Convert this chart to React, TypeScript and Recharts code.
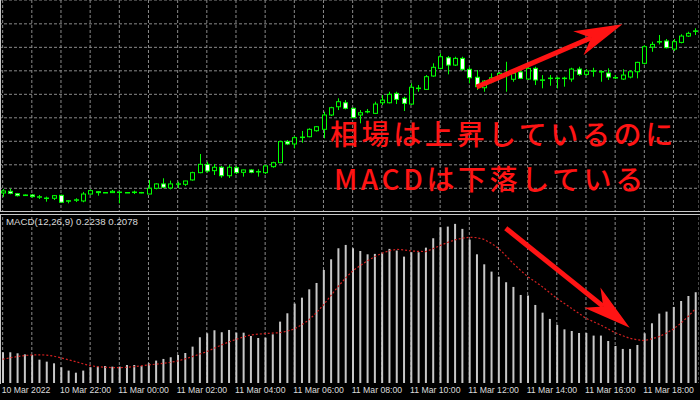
import { BarChart, Bar, ComposedChart, Line, XAxis, YAxis, CartesianGrid, ReferenceLine } from 'recharts';

// USDJPY M15, 10 Mar 20:00 -> 11 Mar 19:45
const tickLabels = [
  '10 Mar 2022', '10 Mar 22:00', '11 Mar 00:00', '11 Mar 02:00', '11 Mar 04:00', '11 Mar 06:00',
  '11 Mar 08:00', '11 Mar 10:00', '11 Mar 12:00', '11 Mar 14:00', '11 Mar 16:00', '11 Mar 18:00',
];

const opens = [
  115.860, 115.874, 115.854, 115.838, 115.843, 115.824, 115.814, 115.815, 115.840, 115.790, 115.799, 115.792,
  115.851, 115.871, 115.861, 115.863, 115.864, 115.861, 115.864, 115.864, 115.851, 115.900, 115.937, 115.903,
  115.934, 115.934, 115.971, 116.033, 116.104, 116.050, 116.079, 116.007, 116.075, 116.036, 116.056, 116.040,
  116.033, 116.084, 116.118, 116.297, 116.277, 116.332, 116.339, 116.390, 116.402, 116.524, 116.594, 116.628,
  116.581, 116.524, 116.550, 116.538, 116.628, 116.628, 116.708, 116.666, 116.617, 116.749, 116.742, 116.856,
  116.921, 117.011, 116.949, 117.006, 116.913, 116.845, 116.756, 116.807, 116.836, 116.863, 116.828, 116.890,
  116.830, 116.921, 116.820, 116.834, 116.834, 116.834, 116.830, 116.915, 116.870, 116.897, 116.891, 116.881,
  116.840, 116.830, 116.847, 116.892, 116.964, 117.102, 117.146, 117.154, 117.085, 117.142, 117.196, 117.237,
];
const highs = [
  115.894, 115.897, 115.860, 115.847, 115.851, 115.843, 115.829, 115.843, 115.846, 115.800, 115.815, 115.869,
  115.891, 115.873, 115.866, 115.886, 115.870, 115.866, 115.880, 115.869, 115.971, 115.943, 115.985, 115.965,
  115.956, 115.964, 116.041, 116.192, 116.126, 116.107, 116.090, 116.098, 116.090, 116.058, 116.062, 116.062,
  116.098, 116.126, 116.305, 116.311, 116.345, 116.388, 116.411, 116.430, 116.552, 116.594, 116.666, 116.651,
  116.586, 116.566, 116.575, 116.637, 116.694, 116.722, 116.722, 116.680, 116.794, 116.779, 116.864, 116.964,
  117.049, 117.026, 117.020, 117.020, 116.935, 116.907, 116.822, 116.879, 116.890, 116.977, 116.892, 116.907,
  116.935, 116.935, 116.864, 116.864, 116.850, 116.850, 116.926, 116.935, 116.915, 116.926, 116.904, 116.921,
  116.864, 116.913, 116.907, 116.977, 117.119, 117.148, 117.205, 117.171, 117.171, 117.211, 117.233, 117.262,
];
const lows = [
  115.826, 115.849, 115.830, 115.834, 115.820, 115.809, 115.786, 115.800, 115.775, 115.772, 115.783, 115.781,
  115.846, 115.837, 115.860, 115.860, 115.772, 115.860, 115.851, 115.857, 115.849, 115.891, 115.900, 115.891,
  115.900, 115.920, 115.965, 116.028, 116.033, 116.013, 115.990, 115.988, 116.022, 115.999, 116.028, 115.999,
  116.022, 116.075, 116.113, 116.268, 116.240, 116.288, 116.334, 116.382, 116.326, 116.515, 116.566, 116.572,
  116.496, 116.453, 116.538, 116.532, 116.609, 116.623, 116.617, 116.558, 116.609, 116.722, 116.737, 116.850,
  116.913, 116.870, 116.941, 116.901, 116.794, 116.737, 116.722, 116.794, 116.822, 116.722, 116.807, 116.830,
  116.822, 116.779, 116.751, 116.773, 116.751, 116.765, 116.807, 116.858, 116.858, 116.850, 116.807, 116.822,
  116.830, 116.822, 116.836, 116.836, 116.955, 117.062, 117.125, 117.091, 117.068, 117.134, 117.188, 117.205,
];
const closes = [
  115.877, 115.857, 115.837, 115.843, 115.829, 115.828, 115.817, 115.837, 115.781, 115.794, 115.802, 115.851,
  115.880, 115.863, 115.864, 115.874, 115.868, 115.864, 115.868, 115.861, 115.900, 115.937, 115.909, 115.937,
  115.938, 115.962, 116.033, 116.104, 116.047, 116.079, 116.007, 116.079, 116.033, 116.056, 116.036, 116.043,
  116.090, 116.118, 116.297, 116.277, 116.331, 116.336, 116.402, 116.424, 116.524, 116.586, 116.637, 116.581,
  116.501, 116.543, 116.554, 116.617, 116.651, 116.700, 116.657, 116.623, 116.760, 116.753, 116.850, 116.930,
  117.020, 116.949, 117.006, 116.913, 116.841, 116.765, 116.813, 116.841, 116.879, 116.866, 116.879, 116.836,
  116.921, 116.822, 116.823, 116.838, 116.838, 116.838, 116.915, 116.870, 116.898, 116.900, 116.894, 116.847,
  116.843, 116.864, 116.892, 116.972, 117.105, 117.125, 117.149, 117.097, 117.148, 117.196, 117.219, 117.240,
];

// MACD(12,26,9): main histogram and signal
const macdMain = [
  0.1662, 0.1662, 0.1652, 0.1642, 0.1636, 0.1591, 0.1572, 0.1556, 0.1518, 0.1486, 0.1466, 0.1486,
  0.1518, 0.1524, 0.1530, 0.1524, 0.1524, 0.1540, 0.1540, 0.1530, 0.1556, 0.1582, 0.1598, 0.1614,
  0.1636, 0.1655, 0.1716, 0.1806, 0.1844, 0.1873, 0.1854, 0.1876, 0.1850, 0.1850, 0.1818, 0.1799,
  0.1802, 0.1834, 0.1956, 0.2036, 0.2129, 0.2186, 0.2266, 0.2327, 0.2452, 0.2554, 0.2660, 0.2692,
  0.2660, 0.2634, 0.2602, 0.2606, 0.2612, 0.2654, 0.2638, 0.2580, 0.2622, 0.2622, 0.2666, 0.2756,
  0.2862, 0.2868, 0.2894, 0.2846, 0.2743, 0.2602, 0.2506, 0.2436, 0.2388, 0.2334, 0.2289, 0.2212,
  0.2206, 0.2116, 0.2042, 0.1982, 0.1924, 0.1882, 0.1866, 0.1847, 0.1847, 0.1822, 0.1822, 0.1770,
  0.1722, 0.1694, 0.1694, 0.1732, 0.1844, 0.1940, 0.2033, 0.2052, 0.2097, 0.2154, 0.2202, 0.2238,
];
const macdSignal = [
  0.1595, 0.1608, 0.1621, 0.1630, 0.1636, 0.1638, 0.1635, 0.1625, 0.1608, 0.1590, 0.1572, 0.1552,
  0.1534, 0.1524, 0.1518, 0.1515, 0.1514, 0.1518, 0.1524, 0.1532, 0.1540, 0.1548, 0.1556, 0.1566,
  0.1578, 0.1598, 0.1620, 0.1644, 0.1668, 0.1700, 0.1732, 0.1760, 0.1786, 0.1808, 0.1828, 0.1836,
  0.1841, 0.1846, 0.1850, 0.1864, 0.1886, 0.1925, 0.1972, 0.2040, 0.2116, 0.2205, 0.2292, 0.2372,
  0.2442, 0.2492, 0.2538, 0.2578, 0.2612, 0.2635, 0.2650, 0.2645, 0.2634, 0.2630, 0.2628, 0.2655,
  0.2686, 0.2715, 0.2740, 0.2756, 0.2766, 0.2762, 0.2746, 0.2708, 0.2660, 0.2590, 0.2516, 0.2450,
  0.2388, 0.2340, 0.2292, 0.2236, 0.2180, 0.2132, 0.2084, 0.2036, 0.1988, 0.1956, 0.1924, 0.1887,
  0.1850, 0.1822, 0.1796, 0.1782, 0.1774, 0.1790, 0.1812, 0.1845, 0.1885, 0.1940, 0.2005, 0.2078,
];

const priceGrid = [115.9, 116.1, 116.3, 116.5, 116.7, 116.9, 117.1, 117.3];

// annotation anchors (bar index, value)
const upArrow = [{ x: 65, y: 116.762 }, { x: 85, y: 117.296 }];
const downArrow = [{ x: 69, y: 0.2852 }, { x: 86, y: 0.1898 }];
const noteLines = ['相場は上昇しているのに', 'MACDは下落している'];

const GREEN = '#00ff00';
const RED = '#ff1414';
const GRID = '#8a8a8a';

const candles = opens.map((open, i) => ({
  i, open, high: highs[i], low: lows[i], close: closes[i], range: [lows[i], highs[i]],
}));
const macd = macdMain.map((main, i) => ({ i, main, signal: macdSignal[i] }));
const hourTicks = candles.filter((d) => d.i % 4 === 0).map((d) => d.i);

const Candle = (props: any) => {
  const { x, y, width, height, payload } = props;
  const top = Math.min(y, y + height);
  const bottom = Math.max(y, y + height);
  const { open, close, high, low } = payload;
  const toY = (v: number) => top + ((high - v) / (high - low)) * (bottom - top);
  const cx = Math.round(x + width / 2);
  const bodyTop = toY(Math.max(open, close));
  const bodyBottom = toY(Math.min(open, close));
  return (
    <g>
      <line x1={cx + 0.5} x2={cx + 0.5} y1={top} y2={bottom} stroke={GREEN} />
      <rect x={cx - 1.5} y={bodyTop} width={4} height={Math.max(bodyBottom - bodyTop, 0.5)}
        fill={close >= open ? '#000' : '#fff'} stroke={GREEN} />
    </g>
  );
};

const Arrow = (props: any) => {
  const { x1, y1, x2, y2 } = props;
  const len = Math.hypot(x2 - x1, y2 - y1);
  const ux = (x2 - x1) / len, uy = (y2 - y1) / len;
  const nx = -uy, ny = ux;
  const head = 48, half = 13, notch = 34;
  const bx = x2 - ux * notch, by = y2 - uy * notch;
  const pts = [
    [x2, y2],
    [x2 - ux * head + nx * half, y2 - uy * head + ny * half],
    [bx, by],
    [x2 - ux * head - nx * half, y2 - uy * head - ny * half],
  ].map((p) => p.join(',')).join(' ');
  return (
    <g>
      <line x1={x1} y1={y1} x2={bx} y2={by} stroke={RED} strokeWidth={5} />
      <polygon points={pts} fill={RED} />
    </g>
  );
};

const TimeTick = (props: any) => {
  const { x, y, payload } = props;
  if (payload.value % 8 !== 0) return null;
  return (
    <text x={x - 1} y={y + 9.5} fill="#dcdcdc" fontSize={8.7} fontFamily="'Liberation Sans', Arial">
      {tickLabels[payload.value / 8]}
    </text>
  );
};

export default function App() {
  return (
    <div style={{ position: 'absolute', left: 0, top: 0, width: 700, height: 400, background: '#000', overflow: 'hidden' }}>
      <div style={{ position: 'absolute', left: -1, top: 0 }}>
        <BarChart width={700} height={212} data={candles} margin={{ top: 0, right: 0, bottom: 0, left: 0 }}>
          <CartesianGrid stroke={GRID} strokeDasharray="3 2" />
          <XAxis dataKey="i" hide ticks={hourTicks} interval={0} />
          <YAxis hide domain={[115.698, 117.503]} ticks={priceGrid} allowDataOverflow />
          <Bar dataKey="range" shape={Candle} isAnimationActive={false} />
          <ReferenceLine segment={upArrow} shape={Arrow} ifOverflow="visible" />
        </BarChart>
      </div>
      <div style={{ position: 'absolute', left: -1, top: 215 }}>
        <ComposedChart width={700} height={185} data={macd} margin={{ top: 2, right: 0, bottom: 0, left: 0 }}>
          <CartesianGrid stroke={GRID} strokeDasharray="3 2" horizontal={false} />
          <XAxis dataKey="i" ticks={hourTicks} interval={0} axisLine={false} tickLine={false}
            tickSize={0} tickMargin={0} height={17} tick={TimeTick} />
          <YAxis hide domain={[0.1367, 0.296]} allowDataOverflow />
          <Bar dataKey="main" fill="#c8c8c8" barSize={2} isAnimationActive={false} />
          <Line dataKey="signal" stroke="#d42020" strokeWidth={1.2} strokeDasharray="2 2" dot={false}
            type="linear" isAnimationActive={false} />
          <ReferenceLine segment={downArrow} shape={Arrow} ifOverflow="visible" />
        </ComposedChart>
      </div>
      <svg width={700} height={400} style={{ position: 'absolute', left: 0, top: 0, pointerEvents: 'none' }}>
        <line x1={0} x2={700} y1={211.5} y2={211.5} stroke="#c8c8c8" />
        <line x1={0} x2={700} y1={214.5} y2={214.5} stroke="#c8c8c8" />
        <line x1={0.5} x2={0.5} y1={0} y2={211} stroke="#c8c8c8" />
        <line x1={0.5} x2={0.5} y1={215} y2={384} stroke="#c8c8c8" />
        <text x={6} y={225} fill="#d8d8d8" fontSize={9.7} fontFamily="'Liberation Sans', Arial">
          {`MACD(12,26,9) ${macdMain[macdMain.length - 1].toFixed(4)} ${macdSignal[macdSignal.length - 1].toFixed(4)}`}
        </text>
        <g fill={RED} fontSize={28} fontWeight={500} fontFamily="'Noto Sans CJK JP', sans-serif">
          <text x={330} y={144.5} letterSpacing={3.6}>{noteLines[0]}</text>
          <text x={334} y={189.5} letterSpacing={3.6}>{noteLines[1]}</text>
        </g>
      </svg>
    </div>
  );
}
